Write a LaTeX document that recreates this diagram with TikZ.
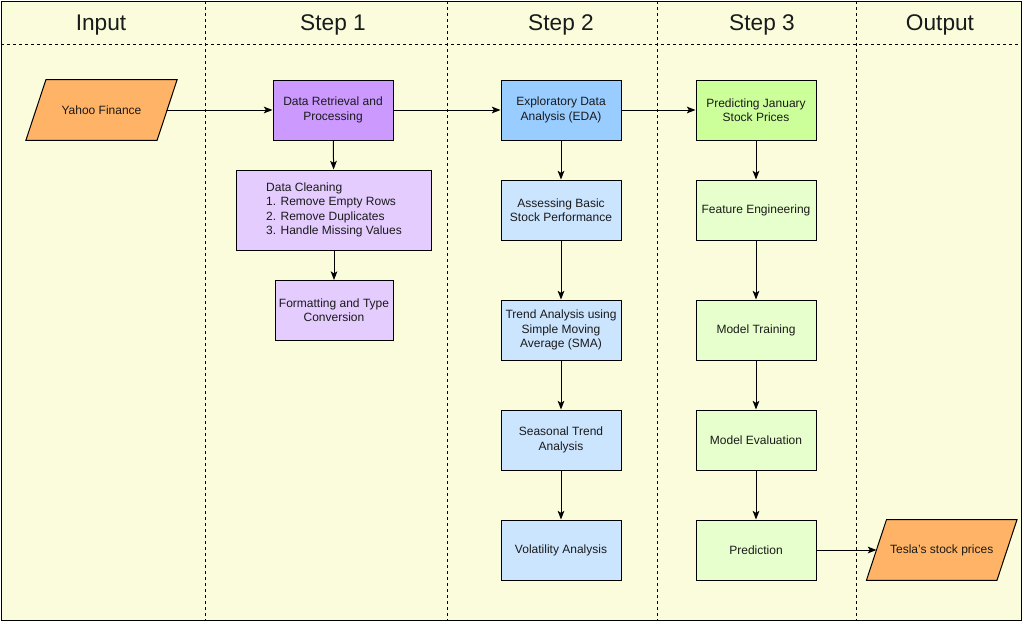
\documentclass[tikz,border=0pt]{standalone}
\usepackage{fontspec}
\setmainfont{Liberation Sans}
\usetikzlibrary{arrows.meta,calc}
\definecolor{bgyellow}{HTML}{FAFCDC}
\definecolor{purpledark}{HTML}{CC99FF}
\definecolor{purplelight}{HTML}{E5CCFF}
\definecolor{bluedark}{HTML}{99CCFF}
\definecolor{bluelight}{HTML}{CCE5FF}
\definecolor{greendark}{HTML}{CCFF99}
\definecolor{greenlight}{HTML}{E6FFCC}
\definecolor{orangeio}{HTML}{FFB366}
\definecolor{txt}{HTML}{1A1A1A}
\begin{document}
\begin{tikzpicture}[x=0.75pt,y=-0.75pt,
  font=\fontsize{9}{10.8}\selectfont,
  box/.style={draw=black, line width=0.75pt, minimum width=90pt, minimum height=45pt,
    align=center, inner sep=2pt, text=txt},
  iobox/.style={minimum width=98pt, minimum height=45pt, align=center, inner sep=0pt, text=txt},
  para/.style={draw=black, line width=0.75pt, fill=orangeio},
  flow/.style={draw=black, line width=0.75pt, -{Stealth[length=6.5pt,width=5pt,inset=1.5pt]}},
  lane/.style={draw=black, line width=0.75pt, dash pattern=on 2.25pt off 2.25pt},
  head/.style={font=\fontsize{17}{20}\selectfont, text=txt}]
\useasboundingbox (0,0) rectangle (1023,622);
\fill[bgyellow] (1,1) rectangle (1021,620);
% lanes
\draw[lane] (1,44) -- (1021,44);
\foreach \x in {205,447,657,856} \draw[lane] (\x,1) -- (\x,620);
\draw[line width=0.75pt] (1,1) rectangle (1021,620);
% headers
\node[head] (hIn) at (101,25) {Input};
\node[head] (hS1) at (333,25) {Step 1};
\node[head] (hS2) at (561,25) {Step 2};
\node[head] (hS3) at (762,25) {Step 3};
\node[head] (hOut) at (940,25) {Output};
% input
\node[iobox] (yahoo) at (101.5,110) {};
\filldraw[para] ($(yahoo.south west)+(-10,0)$) -- ($(yahoo.south east)+(-10,0)$) -- ($(yahoo.north east)+(10,0)$) -- ($(yahoo.north west)+(10,0)$) -- cycle;
\node[text=txt] at (yahoo) {Yahoo Finance};
% step 1
\node[box, fill=purpledark] (retr) at (333,110) {Data Retrieval and\\Processing};
\node[box, fill=purplelight, minimum width=146.25pt, minimum height=60pt, align=left] (clean) at (334,210) {Data Cleaning\\1. Remove Empty Rows\\2. Remove Duplicates\\3. Handle Missing Values};
\node[box, fill=purplelight, minimum width=88.5pt] (fmt) at (334,310.5) {Formatting and Type\\Conversion};
% step 2
\node[box, fill=bluedark] (eda) at (561,110) {Exploratory Data\\Analysis (EDA)};
\node[box, fill=bluelight] (assess) at (561,210) {Assessing Basic\\Stock Performance};
\node[box, fill=bluelight] (trend) at (561,330) {Trend Analysis using\\Simple Moving\\Average (SMA)};
\node[box, fill=bluelight] (season) at (561,440) {Seasonal Trend\\Analysis};
\node[box, fill=bluelight] (vol) at (561,550) {Volatility Analysis};
% step 3
\node[box, fill=greendark] (pred) at (756,110) {Predicting January\\Stock Prices};
\node[box, fill=greenlight] (feat) at (756,210) {Feature Engineering};
\node[box, fill=greenlight] (train) at (756,330) {Model Training};
\node[box, fill=greenlight] (eval) at (756,440) {Model Evaluation};
\node[box, fill=greenlight] (predn) at (756,550) {Prediction};
% output
\node[iobox, minimum width=97.5pt] (tesla) at (941.7,550) {};
\filldraw[para] ($(tesla.south west)+(-10,0)$) -- ($(tesla.south east)+(-10,0)$) -- ($(tesla.north east)+(10,0)$) -- ($(tesla.north west)+(10,0)$) -- cycle;
\node[text=txt] at (tesla) {Tesla's stock prices};
% connectors
\draw[flow] (yahoo) -- (retr);
\draw[flow] (retr) -- (eda);
\draw[flow] (eda) -- (pred);
\draw[flow] (predn) -- (tesla);
\draw[flow] (retr) -- (clean);
\draw[flow] (clean) -- (fmt);
\draw[flow] (eda) -- (assess);
\draw[flow] (assess) -- (trend);
\draw[flow] (trend) -- (season);
\draw[flow] (season) -- (vol);
\draw[flow] (pred) -- (feat);
\draw[flow] (feat) -- (train);
\draw[flow] (train) -- (eval);
\draw[flow] (eval) -- (predn);
\end{tikzpicture}
\end{document}
